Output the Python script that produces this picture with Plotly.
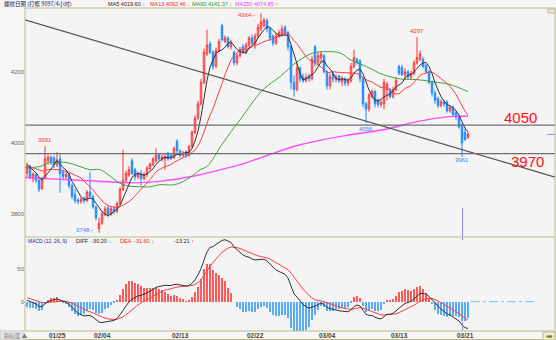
import plotly.graph_objects as go
import pandas as pd

# ---------------- data ----------------
open_px = [3915, 3935, 3900, 3912, 3895, 3872, 3900, 3950, 3960, 3958,
           3938, 3955, 3918, 3905, 3912, 3880, 3855, 3840, 3835, 3845,
           3838, 3862, 3850, 3820, 3760, 3775, 3800, 3818, 3800, 3815,
           3808, 3830, 3870, 3895, 3910, 3950, 3925, 3905, 3915, 3900,
           3912, 3928, 3940, 3950, 3968, 3955, 3955, 3970, 3965, 3958,
           4005, 3978, 3965, 3975, 3965, 3990, 4030, 4070, 4110, 4170,
           4250, 4278, 4255, 4215, 4260, 4330, 4285, 4295, 4270, 4255,
           4225, 4245, 4270, 4255, 4275, 4295, 4275, 4300, 4320, 4330,
           4345, 4320, 4300, 4280, 4300, 4305, 4325, 4310, 4270, 4170,
           4150, 4210, 4185, 4175, 4188, 4180, 4270, 4225, 4240, 4245,
           4200, 4160, 4195, 4178, 4188, 4172, 4180, 4168, 4175, 4215,
           4235, 4230, 4180, 4110, 4095, 4130, 4145, 4120, 4108, 4110,
           4150, 4150, 4130, 4150, 4215, 4212, 4190, 4200, 4185, 4195,
           4225, 4235, 4235, 4218, 4200, 4170, 4140, 4125, 4105, 4115,
           4115, 4090, 4100, 4085, 4075, 4050, 4030, 4015]
high_px = [3945, 3938, 3918, 3915, 3900, 3905, 3991, 3968, 3965, 3965,
           3975, 3972, 3925, 3920, 3915, 3885, 3870, 3845, 3848, 3850,
           3868, 3918, 3855, 3825, 3790, 3808, 3822, 3825, 3822, 3822,
           3835, 3875, 3981, 3922, 3935, 3958, 3930, 3920, 3925, 3918,
           3935, 3945, 3960, 3985, 3972, 3968, 3970, 3975, 3972, 3990,
           4010, 3982, 3978, 3980, 3995, 4035, 4078, 4118, 4180, 4265,
           4318, 4285, 4260, 4268, 4292, 4335, 4302, 4300, 4290, 4260,
           4252, 4270, 4278, 4282, 4300, 4305, 4308, 4335, 4364, 4352,
           4350, 4325, 4305, 4308, 4318, 4330, 4330, 4315, 4275, 4190,
           4225, 4215, 4195, 4195, 4195, 4245, 4275, 4255, 4258, 4250,
           4205, 4195, 4200, 4192, 4192, 4188, 4185, 4182, 4225, 4262,
           4240, 4235, 4185, 4115, 4140, 4150, 4148, 4125, 4120, 4180,
           4172, 4155, 4158, 4185, 4220, 4220, 4210, 4205, 4202, 4232,
           4297, 4260, 4242, 4222, 4205, 4175, 4148, 4130, 4122, 4120,
           4120, 4105, 4105, 4090, 4080, 4055, 4040, 4030]
low_px = [3905, 3898, 3890, 3888, 3862, 3868, 3898, 3940, 3938, 3930,
          3932, 3860, 3895, 3898, 3872, 3842, 3830, 3828, 3830, 3830,
          3834, 3845, 3815, 3782, 3748, 3770, 3795, 3792, 3795, 3800,
          3803, 3825, 3865, 3890, 3905, 3910, 3895, 3898, 3880, 3895,
          3905, 3922, 3935, 3945, 3950, 3948, 3925, 3950, 3952, 3955,
          3972, 3958, 3960, 3958, 3962, 3985, 4025, 4065, 4105, 4165,
          4245, 4250, 4205, 4210, 4255, 4285, 4280, 4265, 4262, 4218,
          4218, 4240, 4250, 4250, 4268, 4275, 4265, 4295, 4315, 4325,
          4310, 4288, 4272, 4275, 4295, 4300, 4300, 4260, 4150, 4130,
          4145, 4170, 4168, 4170, 4172, 4175, 4215, 4218, 4225, 4195,
          4150, 4150, 4170, 4170, 4168, 4160, 4160, 4160, 4170, 4210,
          4220, 4170, 4100, 4056, 4088, 4125, 4100, 4100, 4100, 4095,
          4120, 4125, 4125, 4145, 4190, 4188, 4180, 4178, 4180, 4190,
          4220, 4230, 4210, 4195, 4165, 4130, 4110, 4098, 4100, 4102,
          4085, 4085, 4075, 4065, 4040, 3961, 4005, 4012]
close_px = [3935, 3905, 3912, 3895, 3870, 3900, 3955, 3960, 3945, 3938,
            3952, 3915, 3905, 3912, 3880, 3850, 3838, 3835, 3842, 3838,
            3862, 3850, 3820, 3790, 3775, 3800, 3815, 3800, 3815, 3808,
            3830, 3870, 3895, 3915, 3925, 3915, 3905, 3915, 3900, 3912,
            3930, 3940, 3955, 3965, 3955, 3960, 3962, 3955, 3958, 3985,
            3978, 3965, 3972, 3965, 3990, 4030, 4070, 4110, 4170, 4255,
            4275, 4255, 4215, 4260, 4285, 4290, 4295, 4270, 4280, 4225,
            4245, 4262, 4255, 4275, 4295, 4280, 4300, 4325, 4340, 4345,
            4320, 4295, 4280, 4300, 4310, 4320, 4310, 4270, 4170, 4150,
            4210, 4180, 4175, 4185, 4180, 4235, 4225, 4245, 4250, 4200,
            4160, 4185, 4180, 4185, 4175, 4180, 4168, 4175, 4215, 4240,
            4225, 4180, 4110, 4095, 4135, 4145, 4110, 4108, 4115, 4170,
            4165, 4130, 4150, 4175, 4195, 4192, 4200, 4185, 4195, 4225,
            4240, 4250, 4215, 4200, 4170, 4140, 4120, 4105, 4115, 4110,
            4090, 4100, 4080, 4075, 4045, 4000, 4010, 4025]

# closes before the first drawn bar (moving-average warm-up only)
prior_close = [3905, 3915, 3925, 3918, 3932, 3926, 3938, 3930, 3944, 3950, 3936, 3935]
# indicator state before the first drawn bar
macd_seed = {"ema12": 3930.0, "ema26": 3928.0, "dea": 7.0}

# long moving averages (bar position, value)
ma60_bar = [-0.7, 4.3, 7.7, 13.3, 21, 24.3, 32, 37.7, 41, 44.3, 49.3, 54.3, 57.7, 60,
            65.3, 71, 78.7, 84.3, 90, 95.3, 97.7, 104.3, 107.7, 113, 118.7, 124.3,
            130, 135.3, 141, 147]
ma60_val = [3931, 3934, 3945, 3945, 3925, 3925, 3883, 3877, 3877, 3883, 3883, 3903, 3925, 3934,
            4000, 4065, 4150, 4186, 4228, 4253, 4256, 4253, 4234, 4215, 4192, 4180,
            4178, 4172, 4164, 4144]
ma250_bar = [-0.7, 13.3, 21, 35.3, 45, 54.3, 57.7, 71, 77.7, 91, 107.7, 118.7, 130, 141, 147]
ma250_val = [3903, 3897, 3894, 3888, 3893, 3905, 3911, 3939, 3958, 3995, 4023, 4037, 4060, 4074, 4075]

date_bar = [10, 25, 51, 76, 100, 124, 146]
date_text = ["01/25", "02/04", "02/13", "02/22", "03/04", "03/13", "03/21"]

level_val = [4050, 3970]
trend_bar = [-0.67, 176]
trend_val = [4346, 3904]

cursor_bar = 145.2
last_tick_val = 4024

x_range = [-0.67, 176]
price_range = [3736, 4379]
macd_range = [-45.2, 99.8]

# ---------------- derived series ----------------
n = len(close_px)
bars = list(range(n))
full = pd.Series(prior_close + close_px, dtype=float)
ma5 = full.rolling(5).mean().iloc[len(prior_close):].tolist()
ma13 = full.rolling(13).mean().iloc[len(prior_close):].tolist()

e12, e26, dea = macd_seed["ema12"], macd_seed["ema26"], macd_seed["dea"]
diff_s, dea_s, hist_s = [], [], []
for c in close_px:
    e12 += 2 / 13 * (c - e12)
    e26 += 2 / 27 * (c - e26)
    d = e12 - e26
    dea += 2 / 10 * (d - dea)
    diff_s.append(d)
    dea_s.append(dea)
    hist_s.append(2 * (d - dea))

# ---------------- geometry helpers (pixel -> paper) ----------------
W, H = 556, 340
def px(x):
    return x / W
def py(y):
    return 1 - y / H

LEFT, RIGHT, TOP, MID, BOT = 25, 555, 8, 237, 331
FRAME = "#bcbc84"
FONT = "Liberation Sans, Arial, sans-serif"
CJK = "Noto Sans CJK SC"

fig = go.Figure()

fig.add_trace(go.Candlestick(
    x=bars, open=open_px, high=high_px, low=low_px, close=close_px,
    increasing=dict(line=dict(color="#ff3030", width=1), fillcolor="#fbe3e3"),
    decreasing=dict(line=dict(color="#1e8cff", width=1), fillcolor="#1e8cff"),
    whiskerwidth=0, showlegend=False, hoverinfo="skip", xaxis="x", yaxis="y"))

fig.add_trace(go.Scatter(x=ma250_bar, y=ma250_val, mode="lines", line=dict(color="#ff4cff", width=1.4, shape="spline"),
                         showlegend=False, hoverinfo="skip", xaxis="x", yaxis="y"))
fig.add_trace(go.Scatter(x=ma60_bar, y=ma60_val, mode="lines", line=dict(color="#3aa63a", width=1, shape="spline"),
                         showlegend=False, hoverinfo="skip", xaxis="x", yaxis="y"))
fig.add_trace(go.Scatter(x=bars, y=ma13, mode="lines", line=dict(color="#ff4040", width=1),
                         showlegend=False, hoverinfo="skip", xaxis="x", yaxis="y"))
fig.add_trace(go.Scatter(x=bars, y=ma5, mode="lines", line=dict(color="#333333", width=1),
                         showlegend=False, hoverinfo="skip", xaxis="x", yaxis="y"))
fig.add_trace(go.Scatter(x=trend_bar, y=trend_val, mode="lines", line=dict(color="#555555", width=1.2),
                         showlegend=False, hoverinfo="skip", xaxis="x", yaxis="y"))

# MACD panel
fig.add_trace(go.Bar(x=bars, y=hist_s, width=0.4,
                     marker=dict(color=["#ff5a5a" if v >= 0 else "#5aaaf5" for v in hist_s], line=dict(width=0)),
                     showlegend=False, hoverinfo="skip", xaxis="x2", yaxis="y2"))
fig.add_trace(go.Scatter(x=[n, 170], y=[0, 0], mode="lines", line=dict(color="#7ab8f0", width=1, dash="dashdot"),
                         showlegend=False, hoverinfo="skip", xaxis="x2", yaxis="y2"))
fig.add_trace(go.Scatter(x=bars, y=dea_s, mode="lines", line=dict(color="#ff4040", width=1),
                         showlegend=False, hoverinfo="skip", xaxis="x2", yaxis="y2"))
fig.add_trace(go.Scatter(x=bars, y=diff_s, mode="lines", line=dict(color="#333333", width=1),
                         showlegend=False, hoverinfo="skip", xaxis="x2", yaxis="y2"))

shapes = []
for lv in level_val:
    shapes.append(dict(type="line", xref="x", yref="y", x0=x_range[0], x1=x_range[1], y0=lv, y1=lv,
                       line=dict(color="#6e6e6e", width=1.3)))
# cursor marks
shapes.append(dict(type="line", xref="x", yref="y", x0=cursor_bar, x1=cursor_bar, y0=3818, y1=price_range[0],
                   line=dict(color="#8a8ad8", width=1)))
shapes.append(dict(type="line", xref="x2", yref="y2", x0=cursor_bar, x1=cursor_bar, y0=-31, y1=-44,
                   line=dict(color="#8a8ad8", width=1)))
shapes.append(dict(type="line", xref="x2", yref="y2", x0=cursor_bar, x1=cursor_bar, y0=macd_range[1], y1=95,
                   line=dict(color="#8a8ad8", width=1)))
shapes.append(dict(type="line", xref="x", yref="y", x0=173.3, x1=176, y0=last_tick_val, y1=last_tick_val,
                   line=dict(color="#8a8ad8", width=1)))
# frame
for x0, y0, x1, y1 in [(LEFT, TOP, RIGHT, TOP), (LEFT, MID, RIGHT, MID), (LEFT, BOT, RIGHT, BOT),
                       (LEFT, TOP, LEFT, BOT), (RIGHT, TOP, RIGHT, H), (0, H - 0.5, RIGHT, H - 0.5)]:
    shapes.append(dict(type="line", xref="paper", yref="paper", x0=px(x0), y0=py(y0), x1=px(x1), y1=py(y1),
                       line=dict(color=FRAME, width=1)))
# small boxes
shapes.append(dict(type="rect", xref="paper", yref="paper", x0=px(548), x1=px(555), y0=py(13), y1=py(9),
                   line=dict(color=FRAME, width=1), fillcolor="#e8e8e0"))
shapes.append(dict(type="rect", xref="paper", yref="paper", x0=px(543), x1=px(555), y0=py(340), y1=py(332),
                   line=dict(color=FRAME, width=1), fillcolor="#eeeee6"))
shapes.append(dict(type="rect", xref="paper", yref="paper", x0=px(0), x1=px(24), y0=py(340), y1=py(331),
                   line=dict(color="#c8c8c8", width=1), fillcolor="#e6e6e6"))

ann = []
def label(x, y, text, color, size=5.5, xanchor="left", font=FONT, **kw):
    ann.append(dict(x=px(x), y=py(y), xref="paper", yref="paper", text=text, showarrow=False,
                    xanchor=xanchor, yanchor="middle", font=dict(family=font, size=size, color=color), **kw))

label(2, 4.5, "螺纹日图 (打框 9097/4小时)", "#1a1a60", size=5.5, font=CJK)
label(106, 4.5, "MA5 4019.60 <span style='color:#1aa01a'>↓</span>", "#222222")
label(148, 4.5, "MA13 4062.46 <span style='color:#1aa01a'>↓</span>", "#ff2020")
label(190, 4.5, "MA60 4141.37 <span style='color:#1aa01a'>↓</span>", "#22a022")
label(233, 4.5, "MA250 4074.85 <span style='color:#ff2020'>↑</span>", "#ff30ff")

label(26, 241, "MACD (12, 26, 9)", "#2020a0", size=5)
label(74, 241, "DIFF  -30.20 <span style='color:#1aa01a'>↓</span>", "#222222")
label(118, 241, "DEA  -31.60 <span style='color:#1aa01a'>↓</span>", "#ff2020")
label(172, 241, "-13.21 <span style='color:#ff2020'>↑</span>", "#222222")

label(520, 117.5, "4050", "#ff1010", size=15, xanchor="center")
label(527, 161.5, "3970", "#ff1010", size=15, xanchor="center")

label(2, 335.5, "指标区 ▲", "#777777", size=5.5, font=CJK)
label(549, 336, "➡", "#7a7a10", size=8, xanchor="center")

for b, t in zip(date_bar, date_text):
    ann.append(dict(x=b, y=py(335.5), xref="x2", yref="paper", text="<b>" + t + "</b>", showarrow=False,
                    xanchor="center", yanchor="middle", font=dict(family=FONT, size=6.5, color="#444444")))

# extreme-price marks, tied to the candle values
def mark(i, kind, text, color, xanchor, yanchor, xshift=0, yshift=0):
    val = high_px[i] if kind == "high" else low_px[i]
    ann.append(dict(x=i, y=val, xref="x", yref="y", text=text, showarrow=False, xanchor=xanchor,
                    yanchor=yanchor, xshift=xshift, yshift=yshift,
                    font=dict(family=FONT, size=6, color=color)))

mark(6, "high", "3991", "#ff3030", "center", "bottom", yshift=1)
mark(78, "high", "4364←", "#ff3030", "right", "middle", xshift=-2, yshift=-2)
mark(24, "low", "3748←", "#3080ff", "right", "middle", xshift=-2, yshift=3)
mark(130, "high", "4297", "#ff3030", "center", "bottom", yshift=1)
mark(113, "low", "4056", "#3080ff", "center", "top", yshift=-1)
mark(145, "low", "3961", "#3080ff", "center", "top", yshift=2)

axis_common = dict(showgrid=False, zeroline=False, showline=False, ticks="")
fig.update_layout(
    width=W, height=H, margin=dict(l=0, r=0, t=0, b=0),
    paper_bgcolor="#f6f6f6", plot_bgcolor="#f4f4f4",
    xaxis=dict(domain=[px(LEFT), px(RIGHT)], range=x_range, anchor="y", showticklabels=False,
               rangeslider=dict(visible=False), **axis_common),
    yaxis=dict(domain=[py(MID), py(TOP)], range=price_range, anchor="x", tickvals=[3800, 4000, 4200],
               tickfont=dict(family=FONT, size=6, color="#666666"), **axis_common),
    xaxis2=dict(domain=[px(LEFT), px(RIGHT)], range=x_range, anchor="y2", matches="x", showticklabels=False,
                **axis_common),
    yaxis2=dict(domain=[py(BOT), py(MID)], range=macd_range, anchor="x2", tickvals=[0, 50],
                tickfont=dict(family=FONT, size=6, color="#666666"), **axis_common),
    shapes=shapes, annotations=ann, bargap=0,
)

fig.write_html("out.html")
